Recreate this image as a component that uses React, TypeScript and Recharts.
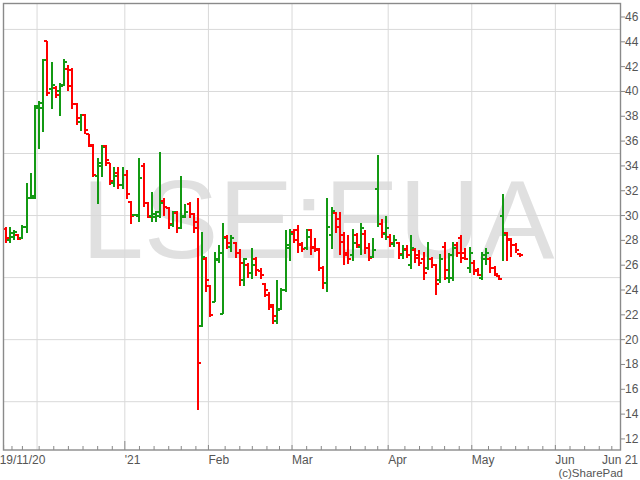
import React from 'react';
import { ComposedChart, Bar, XAxis, YAxis, CartesianGrid } from 'recharts';

// daily OHLC, one entry per trading day from 19/11/20
const opens = [
  28.9, 28.0, 28.3, 28.4, 28.2, 29.1, 31.4, 31.4, 38.7, 38.7,
  44.1, 40.2, 40.3, 40.0, 40.5, 41.8, 41.7, 39.0, 37.5, 38.1,
  36.6, 35.7, 33.2, 34.0, 35.6, 34.2, 32.6, 33.4, 32.5, 33.3,
  31.1, 30.0, 30.0, 34.0, 31.0, 30.0, 29.9, 30.0, 31.2, 30.6,
  29.2, 30.2, 29.0, 29.9, 30.9, 30.1, 29.0, 21.1, 26.5, 24.3,
  23.0, 26.4, 22.1, 28.3, 27.5, 27.8, 27.0, 24.8, 26.0, 25.4,
  26.5, 25.5, 24.5, 23.6, 22.8, 21.5, 22.5, 24.0, 27.4, 28.7,
  28.8, 27.7, 27.4, 28.8, 27.4, 27.3, 25.8, 24.6, 28.4, 30.2,
  29.7, 28.4, 27.0, 26.8, 28.4, 27.5, 28.5, 27.4, 26.7, 32.1,
  29.3, 28.5, 28.3, 27.7, 27.8, 26.8, 27.3, 26.0, 27.2, 26.8,
  26.5, 25.8, 26.5, 26.0, 24.8, 27.5, 25.0, 25.0, 27.6, 28.2,
  27.0, 25.8, 26.2, 25.6, 25.0, 26.5, 26.5, 25.8, 25.1, 30.0,
  28.6, 28.0, 27.6, 26.9,
];
const highs = [
  29.1, 29.1, 28.8, 28.5, 29.2, 32.6, 33.4, 38.9, 39.2, 42.6,
  44.1, 42.4, 40.4, 40.7, 42.6, 42.1, 41.9, 39.1, 38.2, 38.2,
  36.6, 35.8, 34.6, 35.7, 35.7, 34.2, 33.9, 33.9, 33.9, 33.7,
  31.2, 30.05, 34.6, 34.2, 31.1, 31.9, 30.4, 35.1, 31.4, 30.7,
  30.4, 30.4, 33.2, 30.9, 31.1, 30.2, 31.4, 28.7, 26.7, 24.4,
  27.1, 27.6, 29.4, 28.4, 28.4, 27.9, 27.3, 26.6, 26.2, 27.4,
  26.7, 25.8, 24.6, 23.8, 22.9, 24.8, 24.2, 28.8, 28.9, 28.9,
  29.2, 27.9, 28.9, 28.9, 28.2, 27.4, 25.9, 31.4, 30.7, 30.3,
  30.3, 28.7, 28.4, 28.9, 28.6, 29.4, 28.8, 27.8, 28.2, 34.9,
  29.7, 30.0, 28.5, 28.4, 27.9, 27.6, 27.6, 28.4, 27.4, 27.2,
  27.1, 27.9, 26.7, 26.1, 26.9, 27.9, 27.0, 27.9, 27.9, 28.4,
  27.4, 27.5, 26.4, 25.8, 27.1, 27.4, 26.7, 25.9, 25.2, 31.7,
  28.7, 28.2, 27.8, 27.0,
];
const lows = [
  27.8, 27.8, 28.0, 28.0, 28.1, 28.6, 31.3, 31.3, 35.4, 36.7,
  39.6, 38.6, 39.5, 38.0, 40.4, 40.0, 38.6, 37.3, 36.8, 36.6,
  35.5, 33.1, 30.9, 33.1, 34.0, 32.5, 32.3, 32.1, 32.1, 31.3,
  29.3, 29.95, 29.5, 30.7, 29.8, 29.5, 29.5, 29.8, 30.0, 28.9,
  29.1, 28.6, 28.9, 29.8, 29.8, 28.6, 14.3, 21.0, 23.8, 21.8,
  23.0, 26.2, 22.1, 27.3, 27.1, 26.6, 24.3, 24.3, 25.0, 24.9,
  25.1, 24.9, 23.4, 22.4, 21.3, 21.3, 22.4, 23.8, 26.3, 27.8,
  27.0, 27.1, 27.2, 26.8, 27.1, 25.5, 24.1, 23.8, 27.3, 28.6,
  26.8, 26.0, 26.1, 26.3, 27.4, 26.8, 26.9, 26.3, 26.6, 29.1,
  28.2, 28.0, 27.5, 27.5, 26.5, 26.5, 26.6, 25.7, 26.2, 25.9,
  24.8, 25.6, 25.8, 23.6, 24.6, 24.8, 24.6, 24.7, 26.7, 26.2,
  26.4, 25.4, 25.2, 25.1, 24.8, 26.0, 25.4, 25.1, 24.8, 26.3,
  26.3, 26.7, 27.0, 26.7,
];
const closes = [
  28.2, 28.6, 28.7, 28.1, 29.1, 31.4, 31.6, 38.8, 39.1, 42.5,
  39.9, 40.5, 39.7, 40.4, 42.4, 40.4, 39.0, 37.9, 38.1, 36.9,
  35.6, 33.3, 34.2, 35.5, 34.5, 32.8, 33.2, 32.5, 33.3, 31.7,
  30.0, 30.0, 33.0, 31.0, 29.9, 30.1, 30.3, 31.0, 30.7, 29.3,
  30.3, 29.0, 30.0, 30.3, 30.1, 29.5, 18.1, 26.7, 24.8, 22.0,
  26.5, 27.0, 28.2, 27.8, 28.2, 27.0, 26.2, 26.5, 25.4, 26.0,
  25.6, 25.2, 24.0, 22.6, 21.9, 22.4, 24.0, 27.6, 28.5, 28.0,
  27.6, 27.3, 28.3, 27.5, 27.2, 25.8, 24.6, 29.1, 30.4, 29.1,
  27.9, 26.8, 26.5, 27.8, 27.6, 29.0, 27.4, 26.6, 27.2, 29.3,
  28.6, 29.0, 27.8, 28.0, 26.9, 27.2, 26.8, 27.4, 26.6, 26.2,
  25.4, 26.5, 26.0, 24.5, 26.5, 25.6, 26.8, 27.4, 27.0, 26.6,
  26.5, 27.0, 25.5, 25.2, 26.8, 27.0, 25.8, 25.3, 24.9, 28.4,
  28.1, 27.6, 27.2, 26.8,
];

const priceTicks = [12, 14, 16, 18, 20, 22, 24, 26, 28, 30, 32, 34, 36, 38, 40, 42, 44, 46];
const gridPrices = [15, 20, 25, 30, 35, 40, 45];
// trading-day index of the first session of each month
const gridDays = [8, 29, 49, 69, 92, 112, 132];
const monthTickDays = [0, 29, 49, 69, 92, 112, 132];
const monthTickLabels = ['19/11/20', "'21", 'Feb', 'Mar', 'Apr', 'May', 'Jun'];
const endLabel = 'Jun 21';
const minorTickDays = [
  1.5, 4, 8, 11.5, 15, 18.5, 22, 25.5, 32, 35.5, 39, 42, 45.5, 52.5, 56, 59, 62.5, 65.5,
  72, 75.5, 79, 82.5, 86, 89, 95.5, 99, 102, 105, 108.5, 115.5, 118.5, 122, 125, 128.5,
  135, 138.5, 142, 145,
];

const X_MIN = -0.646;
const X_MAX = 147.2;
const Y_MIN = 11.108;
const Y_MAX = 47.128;

const GREEN = '#139913';
const RED = '#ff0000';
const FONT = '"Liberation Sans", Arial, sans-serif';

const data = opens.map((o, i) => ({
  day: i,
  open: o,
  high: highs[i],
  low: lows[i],
  close: closes[i],
  prevClose: i > 0 ? closes[i - 1] : o,
}));

const majorTicks = monthTickDays.map((d) => d - 0.5);
const allXTicks = [...majorTicks, ...minorTickDays, X_MAX];

function OhlcBar(props: any) {
  const { x, y, width, height, payload } = props;
  if (x == null || y == null || !payload) return null;
  const top = Math.min(y, y + height);
  let bottom = Math.max(y, y + height);
  if (bottom - top < 1) bottom = top + 1;
  const span = payload.high - payload.low;
  const toY = (v: number) => (span > 0.2 ? bottom - ((v - payload.low) / span) * (bottom - top) : top + 0.5);
  const cx = Math.round(x + width / 2);
  const color = payload.close >= payload.prevClose ? GREEN : RED;
  const oy = Math.round(toY(payload.open));
  const cy = Math.round(toY(payload.close));
  return (
    <g shapeRendering="crispEdges">
      <line x1={cx} x2={cx} y1={top} y2={bottom} stroke={color} strokeWidth={2} />
      <line x1={cx - 3} x2={cx} y1={oy} y2={oy} stroke={color} strokeWidth={2} />
      <line x1={cx} x2={cx + 3} y1={cy} y2={cy} stroke={color} strokeWidth={2} />
    </g>
  );
}

function XTick(props: any) {
  const { x, y, payload } = props;
  const v = payload.value;
  if (v === X_MAX) {
    return (
      <text x={x + 17} y={y + 14} textAnchor="end" fontSize={12} fontFamily={FONT} fill="#555">
        {endLabel}
      </text>
    );
  }
  const m = majorTicks.indexOf(v);
  if (m < 0) {
    return <line x1={x} x2={x} y1={y} y2={y - 4} stroke="#888" />;
  }
  const tall = monthTickLabels[m] === "'21";
  return (
    <g>
      <line x1={x} x2={x} y1={y} y2={y - (tall ? 9 : 5)} stroke="#888" />
      <text x={m === 0 ? x - 4 : x} y={y + 14} textAnchor="start" fontSize={12} fontFamily={FONT} fill="#555">
        {monthTickLabels[m]}
      </text>
    </g>
  );
}

function YTick(props: any) {
  const { x, y, payload } = props;
  return (
    <g>
      <line x1={x} x2={x + 4} y1={y} y2={y} stroke="#888" />
      <text x={x + 4} y={y} dy={4} textAnchor="start" fontSize={12} fontFamily={FONT} fill="#555">
        {payload.value}
      </text>
    </g>
  );
}

export default function App() {
  return (
    <div style={{ position: 'absolute', left: 0, top: 0, width: 640, height: 480, background: '#fff' }}>
      <svg width={640} height={480} style={{ position: 'absolute', left: 0, top: 0 }}>
        <text x={318} y={258} textAnchor="middle" fontSize={112} fontFamily={FONT} fill="#e0e0e0">
          LSE:EUA
        </text>
      </svg>
      <div style={{ position: 'absolute', left: 0, top: 0 }}>
        <ComposedChart width={640} height={480} data={data} margin={{ top: 3, left: 3, right: 0, bottom: 0 }}>
          <CartesianGrid
            horizontalValues={gridPrices}
            verticalValues={gridDays.map((d) => d - 0.5)}
            stroke="#d9d9d9"
          />
          <XAxis
            dataKey="day"
            type="number"
            domain={[X_MIN, X_MAX]}
            ticks={allXTicks}
            interval={0}
            tick={<XTick />}
            tickLine={false}
            axisLine={false}
            tickSize={0}
            tickMargin={0}
            height={30}
            allowDataOverflow
          />
          <YAxis
            orientation="right"
            type="number"
            domain={[Y_MIN, Y_MAX]}
            ticks={priceTicks}
            interval={0}
            tick={<YTick />}
            tickLine={false}
            axisLine={false}
            tickSize={0}
            tickMargin={0}
            width={19}
            allowDataOverflow
          />
          <Bar
            dataKey={(d: any) => [d.low, d.high]}
            barSize={4}
            shape={(p: any) => <OhlcBar {...p} />}
            isAnimationActive={false}
          />
        </ComposedChart>
      </div>
      <svg width={640} height={480} style={{ position: 'absolute', left: 0, top: 0, pointerEvents: 'none' }}>
        <rect x={3.5} y={3.5} width={617} height={446.5} fill="none" stroke="#8a8a8a" strokeWidth={1.4} />
        <text x={623} y={476.5} textAnchor="end" fontSize={11.5} fontFamily={FONT} fill="#555">
          (c)SharePad
        </text>
      </svg>
    </div>
  );
}
